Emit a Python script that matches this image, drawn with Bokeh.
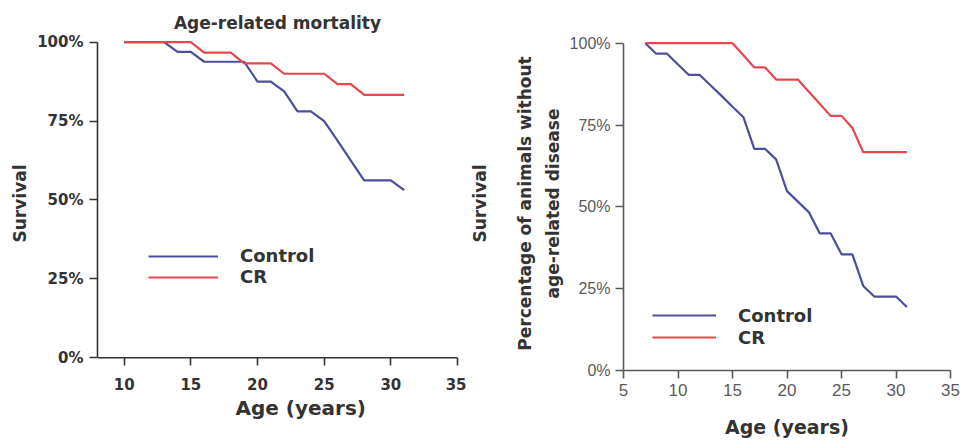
from bokeh.plotting import figure
from bokeh.layouts import row
from bokeh.models import (Title, Legend, LegendItem, FixedTicker, NumeralTickFormatter,
                          Range1d, LinearAxis, Span)
from bokeh.embed import file_html
from bokeh.resources import INLINE

# ---------------- data ----------------
# Left panel: age-related mortality (survival fraction per year)
age_mortality = list(range(10, 32))
control_mortality = [1.0, 1.0, 1.0, 1.0, 0.969, 0.969, 0.938, 0.938, 0.938, 0.938, 0.875,
                     0.875, 0.844, 0.781, 0.781, 0.75, 0.688, 0.625, 0.562, 0.562, 0.562, 0.531]
cr_mortality = [1.0, 1.0, 1.0, 1.0, 1.0, 1.0, 0.967, 0.967, 0.967, 0.933, 0.933,
                0.933, 0.9, 0.9, 0.9, 0.9, 0.867, 0.867, 0.833, 0.833, 0.833, 0.833]

# Right panel: animals without age-related disease
age_disease = list(range(7, 32))
control_disease = [1.0, 0.968, 0.968, 0.935, 0.903, 0.903, 0.871, 0.839, 0.806, 0.774, 0.677,
                   0.677, 0.645, 0.548, 0.516, 0.484, 0.419, 0.419, 0.355, 0.355, 0.258,
                   0.226, 0.226, 0.226, 0.194]
cr_disease = [1.0, 1.0, 1.0, 1.0, 1.0, 1.0, 1.0, 1.0, 1.0, 0.963, 0.926,
              0.926, 0.889, 0.889, 0.889, 0.852, 0.815, 0.778, 0.778, 0.741, 0.667,
              0.667, 0.667, 0.667, 0.667]

y_ticks = [0, 0.25, 0.5, 0.75, 1.0]
x_ticks_left = [10, 15, 20, 25, 30, 35]
x_ticks_right = [5, 10, 15, 20, 25, 30, 35]
series_names = ["Control", "CR"]

BLUE = "#4b4f9b"
RED = "#e8464e"
BOLD = "DejaVu Sans"
DARK = "#333333"


def style_axes(p, color, font, font_style, xsize, ysize, standoff):
    for ax in (p.xaxis, p.yaxis):
        ax.axis_line_color = color
        ax.axis_line_width = 1.6
        ax.major_tick_line_color = color
        ax.major_tick_line_width = 1.6
        ax.major_tick_out = 8
        ax.major_tick_in = 0
        ax.minor_tick_line_color = None
        ax.minor_tick_out = 0
        ax.major_label_text_font = font
        ax.major_label_text_font_style = font_style
        ax.major_label_text_color = color
        ax.major_label_standoff = standoff
        ax.axis_label_text_font = BOLD
        ax.axis_label_text_font_style = "bold"
        ax.axis_label_text_color = DARK
    p.xaxis.major_label_text_font_size = xsize
    p.yaxis.major_label_text_font_size = ysize
    p.xgrid.visible = False
    p.ygrid.visible = False
    p.outline_line_color = None
    p.yaxis.bounds = (0, 1)
    p.yaxis.ticker = FixedTicker(ticks=y_ticks)
    p.yaxis.formatter = NumeralTickFormatter(format="0%")


def label_axis(text, standoff, size="17px"):
    # an axis that carries only a title (no line, no ticks)
    return LinearAxis(axis_label=text, ticker=FixedTicker(ticks=[]),
                      axis_line_color=None, major_tick_line_color=None,
                      minor_tick_line_color=None, major_tick_out=0, major_tick_in=0,
                      minor_tick_out=0, major_label_standoff=0, axis_label_standoff=standoff,
                      axis_label_text_font=BOLD, axis_label_text_font_style="bold",
                      axis_label_text_font_size=size, axis_label_text_color=DARK)


def make_legend(renderers, location, glyph_width, glyph_height):
    return Legend(items=[LegendItem(label=n, renderers=[r]) for n, r in zip(series_names, renderers)],
                  location=location, glyph_width=glyph_width, glyph_height=glyph_height,
                  label_height=glyph_height, label_standoff=22, spacing=0, padding=0, margin=0,
                  border_line_color=None, background_fill_alpha=0,
                  label_text_font=BOLD, label_text_font_style="bold",
                  label_text_font_size="18px", label_text_color=DARK)


# Both frames span y = 36 .. 370 (plots in a row share frame edges)
# ---------------- left panel ----------------
p1 = figure(width=466, height=444, output_backend="svg", toolbar_location=None,
            x_range=Range1d(8, 35), y_range=Range1d(-0.0402, 1.018),
            min_border_left=97, min_border_right=9, min_border_top=36, min_border_bottom=74)
style_axes(p1, DARK, BOLD, "bold", "15px", "15px", 6)
p1.xaxis.ticker = FixedTicker(ticks=x_ticks_left)
# the x axis line is drawn at survival 0, ticks reach down from it
p1.xaxis.axis_line_color = None
p1.xaxis.major_tick_in = 13
p1.xaxis.major_tick_out = -5
p1.xaxis.major_label_standoff = 7
p1.add_layout(Span(location=0, dimension="width", line_color=DARK, line_width=1.6))
p1.yaxis.axis_label = "Survival"
p1.yaxis.axis_label_text_font_size = "17px"
p1.yaxis.axis_label_standoff = 4

r1 = p1.line(age_mortality, control_mortality, line_color=BLUE, line_width=2.2)
r2 = p1.line(age_mortality, cr_mortality, line_color=RED, line_width=2.2)
p1.add_layout(make_legend([r1, r2], (51, 83), 70, 20), "center")

p1.add_layout(Title(text="Age-related mortality", align="center", standoff=8,
                    text_font=BOLD, text_font_style="bold", text_font_size="17px",
                    text_color=DARK), "above")
p1.add_layout(Title(text="Age (years)", align="left", offset=138, standoff=2,
                    text_font=BOLD, text_font_style="bold", text_font_size="20px",
                    text_color=DARK), "below")

# ---------------- right panel ----------------
p2 = figure(width=496, height=444, output_backend="svg", toolbar_location=None,
            x_range=Range1d(5, 35), y_range=Range1d(0, 1.0205),
            min_border_left=156, min_border_right=12, min_border_top=36, min_border_bottom=74)
style_axes(p2, "#5a5a5a", "Liberation Sans", "normal", "17px", "16px", 5)
p2.xaxis.ticker = FixedTicker(ticks=x_ticks_right)
p2.yaxis.axis_label = "age-related disease"
p2.yaxis.axis_label_text_font_size = "17px"
p2.yaxis.axis_label_standoff = 4
p2.xaxis.axis_label = "Age (years)"
p2.xaxis.axis_label_text_font_size = "19px"
p2.xaxis.axis_label_standoff = 17

r3 = p2.line(age_disease, control_disease, line_color=BLUE, line_width=2.2)
r4 = p2.line(age_disease, cr_disease, line_color=RED, line_width=2.2)
p2.add_layout(make_legend([r3, r4], (29, 22), 64, 22), "center")

p2.add_layout(label_axis("Percentage of animals without", 5), "left")
p2.add_layout(label_axis("Survival", 22), "left")

layout = row(p1, p2)
open("out.html", "w").write(file_html(layout, INLINE))
